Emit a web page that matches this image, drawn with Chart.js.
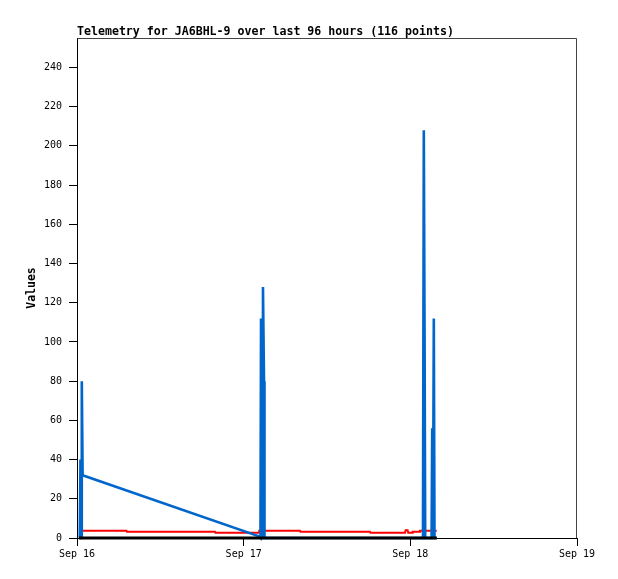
<!DOCTYPE html>
<html>
<head>
<meta charset="utf-8">
<script src="https://cdn.jsdelivr.net/npm/chart.js@4/dist/chart.umd.min.js"></script>
<style>
  html, body { margin: 0; padding: 0; background: #ffffff; }
  #wrap { width: 618px; height: 579px; }
</style>
</head>
<body>
<div id="wrap"><canvas id="c" width="618" height="579"></canvas></div>
<script>
// ---- data (x = hours since Sep 16 00:00) ----
const titleText = "Telemetry for JA6BHL-9 over last 96 hours (116 points)";
const yAxisTitle = "Values";
const xTickHours = [0, 24, 48, 72];
const xTickLabels = ["Sep 16", "Sep 17", "Sep 18", "Sep 19"];
const yTickValues = [0, 20, 40, 60, 80, 100, 120, 140, 160, 180, 200, 220, 240];

const blueHours  = [0.40, 0.50, 0.58, 0.69, 0.81, 26.11, 26.42, 26.50, 26.64, 26.78, 26.93, 27.00, 49.82, 49.94, 50.05, 50.14, 51.06, 51.15, 51.26, 51.38, 51.48, 51.80];
const blueValues = [0,    40,   0,    80,   32,   1,     0,     112,   0,     128,   80,    0,     0,     208,   104,   0,     0,     56,    0,     112,   0,     0];

const redHours  = [0.29, 7.13, 7.20, 19.87, 19.94, 26.18, 26.25, 32.11, 32.18, 42.19, 42.26, 47.23, 47.32, 47.61, 47.69, 48.24, 48.33, 49.32, 49.39, 51.80];
const redValues = [3.7,  3.7,  3.2,  3.2,   2.7,   2.7,   3.7,   3.7,   3.2,   3.2,   2.7,   2.7,   3.9,   3.9,   2.7,   2.7,   3.2,   3.2,   3.7,   3.7];

const blackHours  = [0.29, 51.80];
const blackValues = [0, 0];

const toPoints = (xs, ys) => xs.map((x, i) => ({ x: x, y: ys[i] }));

const MONO = "'DejaVu Sans Mono', 'Liberation Mono', monospace";

const framePlugin = {
  id: 'frame',
  beforeDraw(chart) {
    const ctx = chart.ctx;
    ctx.save();
    ctx.fillStyle = '#ffffff';
    ctx.fillRect(0, 0, chart.width, chart.height);
    ctx.restore();
  },
  beforeDatasetsDraw(chart) {
    const { ctx, chartArea: a } = chart;
    ctx.save();
    ctx.strokeStyle = '#444444';
    ctx.lineWidth = 1;
    ctx.beginPath();
    ctx.moveTo(Math.round(a.left) + 0.5, Math.round(a.top) + 0.5);
    ctx.lineTo(Math.round(a.right) - 0.5, Math.round(a.top) + 0.5);
    ctx.lineTo(Math.round(a.right) - 0.5, Math.round(a.bottom));
    ctx.stroke();
    ctx.restore();
  },
  afterDraw(chart) {
    const { ctx, chartArea: a } = chart;
    ctx.save();
    ctx.fillStyle = '#000000';
    ctx.font = "bold 11.6px " + MONO;
    ctx.textAlign = 'left';
    ctx.textBaseline = 'alphabetic';
    ctx.fillText(titleText, a.left, a.top - 3);
    ctx.restore();
  }
};

new Chart(document.getElementById('c'), {
  type: 'line',
  data: {
    datasets: [
      { label: 'ch3', data: toPoints(blackHours, blackValues), borderColor: '#000000', borderWidth: 3, pointRadius: 0, tension: 0, clip: 6 },
      { label: 'ch1', data: toPoints(blueHours, blueValues), borderColor: '#0066cc', borderWidth: 2.6, pointRadius: 0, tension: 0, clip: 6 },
      { label: 'ch2', data: toPoints(redHours, redValues), borderColor: '#ff0000', borderWidth: 2, pointRadius: 0, tension: 0, clip: 6 }
    ]
  },
  options: {
    responsive: false,
    animation: false,
    events: [],
    layout: { padding: { top: 38, right: 41, left: 0, bottom: 0 } },
    plugins: { legend: { display: false }, title: { display: false }, tooltip: { enabled: false } },
    scales: {
      x: {
        type: 'linear',
        min: 0,
        max: 72,
        afterBuildTicks(axis) { axis.ticks = xTickHours.map(v => ({ value: v })); },
        afterFit(scale) { scale.height = 41; },
        ticks: {
          autoSkip: false,
          maxRotation: 0,
          padding: 2,
          color: '#000000',
          font: { family: MONO, size: 10 },
          callback: (v) => xTickLabels[xTickHours.indexOf(v)]
        },
        grid: { drawOnChartArea: false, drawTicks: true, tickLength: 8, color: '#000000', lineWidth: 1 },
        border: { display: true, color: '#000000', width: 1 }
      },
      y: {
        type: 'linear',
        min: 0,
        max: 255,
        afterBuildTicks(axis) { axis.ticks = yTickValues.map(v => ({ value: v })); },
        afterFit(scale) { scale.width = 77; },
        ticks: {
          autoSkip: false,
          padding: 7,
          color: '#000000',
          font: { family: MONO, size: 10 },
          callback: (v) => String(v)
        },
        title: {
          display: true,
          text: yAxisTitle,
          color: '#000000',
          font: { family: MONO, size: 11.5, weight: 'bold' },
          padding: { top: 25, bottom: 0 }
        },
        grid: { drawOnChartArea: false, drawTicks: true, tickLength: 8, color: '#000000', lineWidth: 1 },
        border: { display: true, color: '#000000', width: 1 }
      }
    }
  },
  plugins: [framePlugin]
});
</script>
</body>
</html>
